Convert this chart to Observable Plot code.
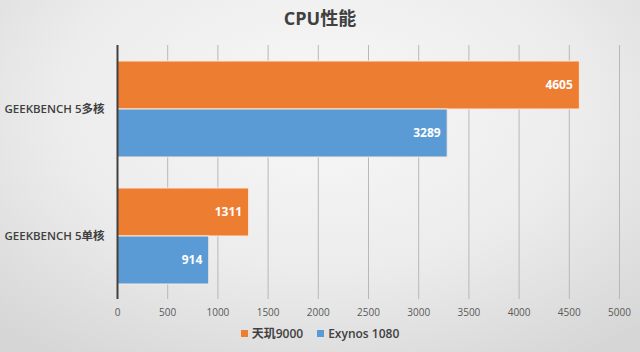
<!DOCTYPE html>
<html>
<head>
<meta charset="utf-8">
<script src="https://cdn.jsdelivr.net/npm/d3@7"></script>
<script src="https://cdn.jsdelivr.net/npm/@observablehq/plot@0.6"></script>
<style>
  html, body { margin: 0; padding: 0; }
  #wrap {
    position: relative; width: 640px; height: 352px; overflow: hidden;
    background: radial-gradient(ellipse 75% 85% at 50% 30%, #f8f8f8 0%, #ececec 55%, #d6d6d6 100%);
    font-family: "Open Sans", "Noto Sans CJK SC", sans-serif;
  }
  #title {
    position: absolute; left: 0; top: 4px; width: 640px; text-align: center;
    font-size: 18px; font-weight: bold; color: #404040;
  }
  #legend {
    position: absolute; left: 0; top: 324px; width: 640px; display: flex; justify-content: center;
    font-size: 12px; font-weight: 600; color: #404040; gap: 14px;
  }
  #legend span.item { display: inline-flex; align-items: center; gap: 4px; }
  #legend span.sw { display: inline-block; width: 7px; height: 7px; }
  #chart { position: absolute; left: 0; top: 0; }
</style>
</head>
<body>
<div id="wrap">
  <div id="chart"></div>
  <div id="title">CPU性能</div>
  <div id="legend"></div>
</div>
<script>
const categories = ["GEEKBENCH 5多核", "GEEKBENCH 5单核"];
const series = ["天玑9000", "Exynos 1080"];
const dimensity9000 = [4605, 1311];
const exynos1080 = [3289, 914];
const xTicks = [0, 500, 1000, 1500, 2000, 2500, 3000, 3500, 4000, 4500, 5000];
const colors = ["#ED7D31", "#5B9BD5"];

const data = categories.flatMap((c, i) => [
  {cat: c, s: series[0], v: dimensity9000[i]},
  {cat: c, s: series[1], v: exynos1080[i]}
]);

const chart = Plot.plot({
  width: 640,
  height: 352,
  marginLeft: 117,
  marginRight: 21,
  marginTop: 44,
  marginBottom: 53,
  style: {background: "transparent", fontSize: "11.5px", fontWeight: 600, color: "#404040", fontFamily: "'Open Sans', 'Noto Sans CJK SC', sans-serif"},
  x: {domain: [0, 5000], axis: null},
  y: {domain: series, axis: null, paddingInner: 0, paddingOuter: 0.32},
  fy: {domain: categories, padding: 0, label: null, axis: "left", tickSize: 0, tickPadding: 13},
  color: {domain: series, range: colors},
  marks: [
    Plot.gridX(xTicks, {stroke: "#b8b8b8", strokeOpacity: 1}),
    Plot.barX(data, {x: "v", y: "s", fy: "cat", fill: "s", stroke: "#fbe9dc", strokeWidth: 1}),
    Plot.text(data, {x: "v", y: "s", fy: "cat", text: d => String(d.v), textAnchor: "end", dx: -7, fill: "white", fontWeight: "bold", fontSize: 12}),
    Plot.ruleX([0], {stroke: "#404040", strokeWidth: 2}),
    Plot.axisX(xTicks, {anchor: "bottom", label: null, tickSize: 0, tickPadding: 9, tickFormat: d => String(d), color: "#595959", fontSize: 10, fontWeight: "normal"})
  ]
});
document.getElementById("chart").appendChild(chart);

const legend = document.getElementById("legend");
series.forEach((s, i) => {
  const item = document.createElement("span");
  item.className = "item";
  const sw = document.createElement("span");
  sw.className = "sw";
  sw.style.background = colors[i];
  const label = document.createElement("span");
  label.textContent = s;
  item.appendChild(sw);
  item.appendChild(label);
  legend.appendChild(item);
});
</script>
</body>
</html>
